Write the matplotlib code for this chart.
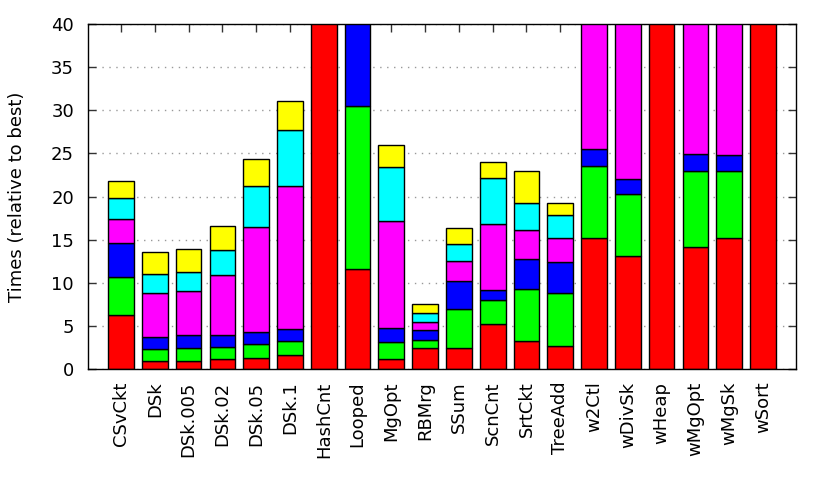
import matplotlib
matplotlib.use("Agg")
import matplotlib.pyplot as plt
import numpy as np

categories = ["CSvCkt", "DSk", "DSk.005", "DSk.02", "DSk.05", "DSk.1", "HashCnt",
              "Looped", "MgOpt", "RBMrg", "SSum", "ScnCnt", "SrtCkt", "TreeAdd",
              "w2Ctl", "wDivSk", "wHeap", "wMgOpt", "wMgSk", "wSort"]

# segment heights (stacked bottom to top)
red     = [6.3, 0.93, 0.93, 1.12, 1.31, 1.59, 50.0, 11.6, 1.16, 2.4, 2.4, 5.26, 3.25, 2.63, 15.15, 13.1, 50.0, 14.2, 15.15, 50.0]
green   = [4.4, 1.37, 1.47, 1.43, 1.55, 1.61, 0.0, 18.9, 2.01, 1.0, 4.5, 2.78, 6.03, 6.22, 8.35, 7.15, 0.0, 8.8, 7.75, 0.0]
blue    = [3.9, 1.45, 1.5, 1.35, 1.39, 1.4, 0.0, 15.0, 1.53, 1.08, 3.3, 1.08, 3.52, 3.55, 2.0, 1.75, 0.0, 1.9, 1.9, 0.0]
magenta = [2.8, 5.1, 5.1, 7.0, 12.25, 16.6, 0.0, 0.0, 12.5, 0.97, 2.3, 7.73, 3.3, 2.8, 20.0, 20.0, 0.0, 20.0, 20.0, 0.0]
cyan    = [2.4, 2.15, 2.2, 2.9, 4.7, 6.5, 0.0, 0.0, 6.2, 1.01, 2.0, 5.35, 3.1, 2.6, 0.0, 0.0, 0.0, 0.0, 0.0, 0.0]
yellow  = [2.0, 2.6, 2.7, 2.8, 3.1, 3.37, 0.0, 0.0, 2.6, 1.04, 1.8, 1.8, 3.8, 1.4, 0.0, 0.0, 0.0, 0.0, 0.0, 0.0]

series = [red, green, blue, magenta, cyan, yellow]
colors = ["#ff0000", "#00ff00", "#0000ff", "#ff00ff", "#00ffff", "#ffff00"]

fig = plt.figure(figsize=(8.3, 4.98), dpi=100)
ax = fig.add_axes([88/830, 1-369/498, (796-88)/830, (369-24)/498])

x = np.arange(len(categories))
bottom = np.zeros(len(categories))
for vals, c in zip(series, colors):
    v = np.array(vals)
    mask = v > 0
    ax.bar(x[mask], v[mask], bottom=bottom[mask], width=0.76, color=c,
           edgecolor="black", linewidth=1.0, zorder=2)
    bottom += v

ax.set_xlim(-0.98, 19.98)
ax.set_ylim(0, 40)
ax.set_yticks(range(0, 41, 5))
ax.set_xticks(x)
ax.set_xticklabels(categories, rotation=90, fontsize=13)
ax.tick_params(axis="y", labelsize=13, pad=10)
ax.tick_params(axis="x", pad=9)
ax.tick_params(direction="in", length=6, top=True, right=True, width=1, color="#333333")
ax.set_axisbelow(True)
ax.yaxis.grid(True, linestyle=(0, (1, 4)), color="#999999", linewidth=1)
for s in ax.spines.values():
    s.set_linewidth(1)
    s.set_zorder(3)
ax.set_ylabel("Times (relative to best)", fontsize=13, labelpad=18)

fig.savefig("out.png", dpi=100)
